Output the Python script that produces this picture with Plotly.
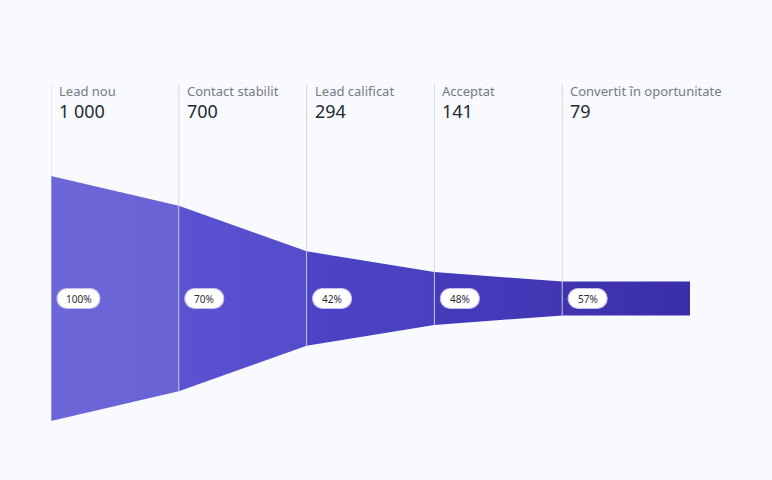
import plotly.graph_objects as go

stages = ["Lead nou", "Contact stabilit", "Lead calificat", "Acceptat", "Convertit în oportunitate"]
values = [1000, 700, 294, 141, 79]
value_labels = ["1 000", "700", "294", "141", "79"]
step_pct = ["100%", "70%", "42%", "48%", "57%"]
colors = [("#6D66D8", "#6862D4"), ("#5A52D1", "#544CCB"), ("#4C44C5", "#4840BF"),
          ("#463BBB", "#4236B5"), ("#4034B0", "#3B2EAA")]

EXP = 0.78
def disp(v):
    return 1000 * (v / values[0]) ** EXP

W, H = 772, 480
ML, MR = 51, 82
px_y = 0.245                              # px per display unit
cy = 298.5                                # funnel centre line (px from top)
y_top = cy / px_y
y_bot = -(H - cy) / px_y
BG = "#F8FAFD"

fig = go.Figure()
n = len(stages)
for i in range(n):
    h0 = disp(values[i]) / 2
    h1 = disp(values[i + 1]) / 2 if i + 1 < n else h0
    xs = [i, i + 1, i + 1, i, i]
    ys = [h0, h1, -h1, -h0, h0]
    fig.add_trace(go.Scatter(
        x=xs, y=ys, mode="lines", line=dict(width=0), fill="toself",
        fillgradient=dict(type="horizontal",
                          colorscale=[[0, colors[i][0]], [1, colors[i][1]]]),
        hoverinfo="skip", showlegend=False))

shapes = []
annotations = []
line_top = (cy - 85) / px_y
for i in range(n):
    h0 = disp(values[i]) / 2
    shapes.append(dict(type="line", xref="x", yref="y", x0=i, x1=i, y0=line_top, y1=-h0,
                       line=dict(color="rgba(205,209,218,0.85)", width=1), layer="above"))
    annotations.append(dict(x=i, y=(cy - 91) / px_y, xref="x", yref="y", text=stages[i],
                            xanchor="left", yanchor="middle", xshift=6, showarrow=False,
                            font=dict(size=13, color="#747a86", family="Noto Sans")))
    annotations.append(dict(x=i, y=(cy - 111) / px_y, xref="x", yref="y", text=value_labels[i],
                            xanchor="left", yanchor="middle", xshift=6, showarrow=False,
                            font=dict(size=18, color="#262a33", family="Noto Sans")))
    w = 43 if len(step_pct[i]) > 3 else 39
    x0, x1, r = 6, 6 + w, 10
    k = 0.5523 * r
    path = (f"M {x0+r},{-r} L {x1-r},{-r} C {x1-r+k},{-r} {x1},{-k} {x1},0 "
            f"C {x1},{k} {x1-r+k},{r} {x1-r},{r} L {x0+r},{r} "
            f"C {x0+r-k},{r} {x0},{k} {x0},0 C {x0},{-k} {x0+r-k},{-r} {x0+r},{-r} Z")
    shapes.append(dict(type="path", xref="x", yref="y", xsizemode="pixel", ysizemode="pixel",
                       xanchor=i, yanchor=0, path=path, fillcolor="white",
                       line=dict(color="rgba(196,192,236,0.95)", width=1.2), layer="above"))
    annotations.append(dict(x=i, y=0, xref="x", yref="y", text=step_pct[i],
                            xanchor="center", yanchor="middle", xshift=6 + w / 2, showarrow=False,
                            font=dict(size=10, color="#2b2e36", family="Noto Sans")))

fig.update_layout(
    width=W, height=H,
    margin=dict(l=ML, r=MR, t=0, b=0),
    paper_bgcolor=BG, plot_bgcolor=BG,
    xaxis=dict(range=[0, n], visible=False, fixedrange=True),
    yaxis=dict(range=[y_bot, y_top], visible=False, fixedrange=True),
    shapes=shapes, annotations=annotations,
    showlegend=False,
)
fig.write_html("out.html", config={"displayModeBar": False},
               post_script=f"document.body.style.margin='0';document.body.style.background='{BG}';")
